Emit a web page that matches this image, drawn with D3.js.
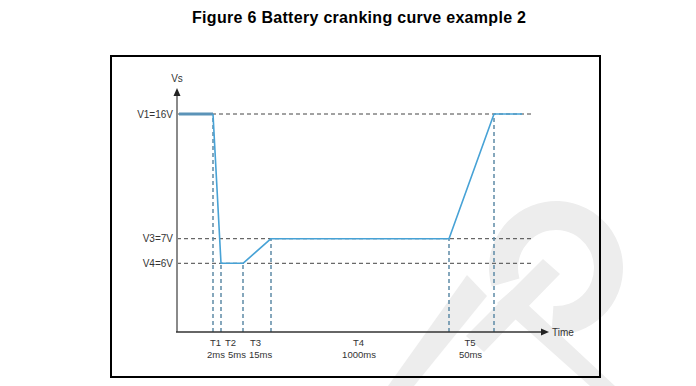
<!DOCTYPE html>
<html><head><meta charset="utf-8">
<script src="https://cdn.jsdelivr.net/npm/d3@7"></script>
<style>html,body{margin:0;padding:0;background:#fff;}svg{display:block;}</style>
</head><body>
<script>
// ---- data ----
const phases = ["T1", "T2", "T3", "T4", "T5"];
const durations = [2, 5, 15, 1000, 50];            // ms
const durationLabels = ["2ms", "5ms", "15ms", "1000ms", "50ms"];
const levelLabels = ["V1=16V", "V3=7V", "V4=6V"];
const levelValues = [16, 7, 6];                     // V
// curve: times in ms relative to start of T1 (schematic lead-in / tail)
const curveTime = [-10, 0, 2, 7, 22, 1022, 1072, 1082];
const curveVolt = [16, 16, 6, 6, 7, 7, 16, 16];
const title = "Figure 6 Battery cranking curve example 2";

// ---- layout ----
const W = 696, H = 386;
const svg = d3.select("body").append("svg").attr("width", W).attr("height", H);
const font = "'Liberation Sans', Arial, sans-serif";

// boundaries (cumulative)
const bounds = [0];
durations.forEach(d => bounds.push(bounds[bounds.length - 1] + d));

// schematic (piecewise) scales
const x = d3.scaleLinear()
  .domain(curveTime)
  .range([179, 213, 221, 243, 271, 449, 494, 522]);
const y = d3.scaleLinear()
  .domain([0, 6, 7, 16])
  .range([332, 263.3, 238.7, 114]);

const x0 = 177, xEnd = 549, yTop = 88, yBase = y(0);

// watermark
const wm = svg.append("g").attr("fill", "#ededed");
const arc = d3.arc().innerRadius(38).outerRadius(67)
  .startAngle(-1.85).endAngle(3.21);
wm.append("path").attr("d", arc()).attr("transform", "translate(556,268)");
wm.append("path").attr("d", "M543,259 L560,274 L484,352 L466,336 Z");
wm.append("path").attr("d", "M467,275 L487,296 L414,386 L388,386 Z");
wm.append("path").attr("d", "M497,303 L512,290 L615,386 L590,386 Z");

// frame
svg.append("rect").attr("x", 111).attr("y", 56).attr("width", 489).attr("height", 321)
  .attr("fill", "none").attr("stroke", "#000").attr("stroke-width", 2);

// title
svg.append("text").attr("x", 359).attr("y", 23).attr("text-anchor", "middle")
  .attr("font-family", font).attr("font-weight", "bold").attr("font-size", 16)
  .attr("textLength", 334).attr("lengthAdjust", "spacing")
  .attr("fill", "#000").text(title);

// horizontal dashed level lines
svg.selectAll("line.lvl").data(levelValues).join("line")
  .attr("x1", x0).attr("x2", (d, i) => i === 2 ? 532 : 533)
  .attr("y1", d => y(d)).attr("y2", d => y(d))
  .attr("stroke", "#444").attr("stroke-width", 1).attr("stroke-dasharray", "4,3");

// vertical dashed boundary lines (from axis up to curve)
const curveAt = t => curveVolt[curveTime.indexOf(t)];
svg.selectAll("line.bnd").data(bounds).join("line")
  .attr("x1", d => x(d)).attr("x2", d => x(d))
  .attr("y1", yBase).attr("y2", d => y(curveAt(d)))
  .attr("stroke", "#5d8aa6").attr("stroke-width", 1.5).attr("stroke-dasharray", "4,3");

// axes
svg.append("line").attr("x1", x0).attr("x2", x0).attr("y1", yBase).attr("y2", yTop + 6)
  .attr("stroke", "#8a8a8a").attr("stroke-width", 2);
svg.append("path").attr("d", `M${x0},${yTop} L${x0 - 3.5},${yTop + 8} L${x0 + 3.5},${yTop + 8} Z`).attr("fill", "#222");
svg.append("line").attr("x1", x0 - 1).attr("x2", xEnd - 6).attr("y1", yBase).attr("y2", yBase)
  .attr("stroke", "#333").attr("stroke-width", 1.5);
svg.append("path").attr("d", `M${xEnd},${yBase} L${xEnd - 8},${yBase - 3.5} L${xEnd - 8},${yBase + 3.5} Z`).attr("fill", "#222");

svg.append("text").attr("x", x0).attr("y", 82).attr("text-anchor", "middle")
  .attr("font-family", font).attr("font-size", 10).attr("fill", "#333").text("Vs");
svg.append("text").attr("x", 552).attr("y", 336)
  .attr("font-family", font).attr("font-size", 10).attr("fill", "#333").text("Time");

// level labels
svg.selectAll("text.lvl").data(levelLabels).join("text")
  .attr("x", 173).attr("y", (d, i) => y(levelValues[i]) + 3.5).attr("text-anchor", "end")
  .attr("font-family", font).attr("font-size", 10).attr("fill", "#333").text(d => d);

// phase labels
const mids = phases.map((p, i) => (x(bounds[i]) + x(bounds[i + 1])) / 2);
svg.selectAll("text.ph").data(phases).join("text")
  .attr("x", (d, i) => mids[i] - 1.5).attr("y", 346).attr("text-anchor", "middle")
  .attr("font-family", font).attr("font-size", 9.5).attr("fill", "#333").text(d => d);

// duration labels: start at phase centres, pushed right to avoid collisions
const du = svg.selectAll("text.du").data(durationLabels).join("text")
  .attr("y", 357.5).attr("text-anchor", "middle")
  .attr("font-family", font).attr("font-size", 9.5).attr("fill", "#333").text(d => d);
let prevRight = -Infinity;
du.each(function (d, i) {
  const w = this.getComputedTextLength();
  let c = mids[i] - 1;
  if (c - w / 2 < prevRight + 3) c = prevRight + 3 + w / 2;
  prevRight = c + w / 2;
  d3.select(this).attr("x", c);
});

// curve
const pts = curveTime.map((t, i) => [t, curveVolt[i]]);
const line = d3.line().x(d => x(d[0])).y(d => y(d[1]));
// thicker initial plateau
svg.append("path").attr("d", line(pts.slice(0, 2))).attr("fill", "none")
  .attr("stroke", "#5b93b8").attr("stroke-width", 3);
svg.append("path").attr("d", line(pts.slice(1))).attr("fill", "none")
  .attr("stroke", "#47a2d6").attr("stroke-width", 1.6).attr("stroke-linejoin", "round");
</script>
</body></html>
